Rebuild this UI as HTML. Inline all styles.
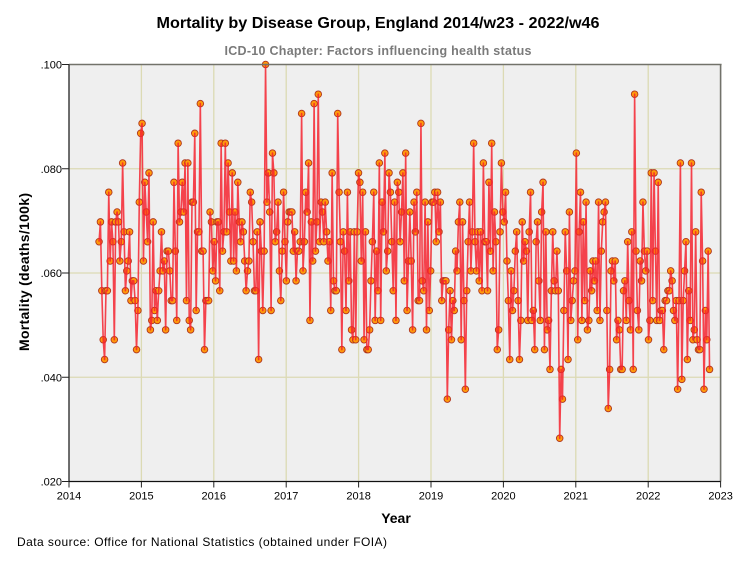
<!DOCTYPE html>
<html>
<head>
<meta charset="utf-8">
<title>Mortality by Disease Group</title>
<style>
html,body{margin:0;padding:0;background:#fff;width:754px;height:564px;overflow:hidden}
svg{display:block}
text{font-family:"Liberation Sans",sans-serif}
</style>
</head>
<body>
<svg id="chart" width="754" height="564" viewBox="0 0 754 564" xmlns="http://www.w3.org/2000/svg">
  <rect x="0" y="0" width="754" height="564" fill="#ffffff"/>
  <text x="378" y="28" text-anchor="middle" font-size="16" font-weight="bold" fill="#000" textLength="443" lengthAdjust="spacingAndGlyphs">Mortality by Disease Group, England 2014/w23 - 2022/w46</text>
  <text x="378" y="55" text-anchor="middle" font-size="12.5" font-weight="bold" fill="#7a7a7a" textLength="307" lengthAdjust="spacing">ICD-10 Chapter: Factors influencing health status</text>
  <rect x="69" y="64.5" width="652" height="417" fill="#efefef"/>
  <g id="grid"></g>
  <g id="markers"></g>
  <polyline id="line" fill="none" stroke="#f5232f" stroke-opacity="0.85" stroke-width="1.6" stroke-linejoin="round"/>
  <g id="axes"></g>
  <text x="396" y="523" text-anchor="middle" font-size="14" font-weight="bold" fill="#000">Year</text>
  <text transform="translate(29,272) rotate(-90)" text-anchor="middle" font-size="14" font-weight="bold" fill="#000" textLength="158" lengthAdjust="spacing">Mortality (deaths/100k)</text>
  <text x="17" y="546" font-size="12" fill="#000" textLength="370" lengthAdjust="spacing">Data source: Office for National Statistics (obtained under FOIA)</text>
</svg>
<script>
const xTicks = [2014, 2015, 2016, 2017, 2018, 2019, 2020, 2021, 2022, 2023];
const yTicks = [0.02, 0.04, 0.06, 0.08, 0.10];
const yTickLabels = [".020", ".040", ".060", ".080", ".100"];
const firstWeek = 2014.415;
const weeksPerYear = 52.18;
const mortality = [
.0660,.0698,.0566,.0472,.0434,.0566,.0566,.0755,.0623,.0698,.0660,.0472,.0698,.0717,.0698,.0623,.0660,.0811,.0679,.0566,
.0604,.0623,.0679,.0547,.0585,.0585,.0547,.0453,.0528,.0736,.0868,.0887,.0623,.0774,.0717,.0660,.0792,.0491,.0509,.0698,
.0528,.0566,.0509,.0566,.0604,.0679,.0604,.0623,.0491,.0642,.0642,.0604,.0547,.0547,.0774,.0642,.0509,.0849,.0698,.0717,
.0774,.0717,.0811,.0547,.0811,.0509,.0491,.0736,.0736,.0868,.0528,.0679,.0679,.0925,.0642,.0642,.0453,.0547,.0547,.0547,
.0717,.0698,.0604,.0660,.0585,.0698,.0698,.0566,.0849,.0642,.0679,.0849,.0679,.0811,.0717,.0623,.0792,.0623,.0717,.0604,
.0774,.0698,.0660,.0698,.0679,.0623,.0566,.0604,.0623,.0755,.0736,.0660,.0566,.0566,.0679,.0434,.0698,.0642,.0528,.0642,
.1000,.0736,.0792,.0717,.0528,.0830,.0792,.0660,.0679,.0736,.0604,.0547,.0642,.0755,.0660,.0585,.0698,.0717,.0717,.0717,
.0642,.0679,.0585,.0642,.0642,.0660,.0906,.0604,.0660,.0755,.0717,.0811,.0509,.0698,.0623,.0925,.0642,.0698,.0943,.0660,
.0736,.0717,.0660,.0736,.0679,.0623,.0660,.0528,.0792,.0585,.0566,.0566,.0906,.0755,.0660,.0453,.0679,.0642,.0528,.0755,
.0585,.0679,.0491,.0472,.0679,.0472,.0679,.0792,.0774,.0623,.0755,.0472,.0679,.0453,.0453,.0491,.0585,.0660,.0755,.0509,
.0642,.0566,.0811,.0509,.0736,.0679,.0830,.0604,.0642,.0792,.0755,.0660,.0566,.0736,.0509,.0774,.0755,.0660,.0717,.0792,
.0585,.0830,.0528,.0623,.0717,.0623,.0491,.0736,.0679,.0755,.0547,.0547,.0887,.0585,.0566,.0736,.0491,.0698,.0528,.0604,
.0736,.0736,.0755,.0660,.0755,.0679,.0736,.0547,.0585,.0585,.0585,.0358,.0491,.0566,.0472,.0547,.0528,.0642,.0604,.0698,
.0736,.0472,.0698,.0547,.0377,.0566,.0660,.0736,.0604,.0679,.0849,.0660,.0604,.0679,.0585,.0679,.0566,.0811,.0660,.0660,
.0566,.0774,.0642,.0849,.0604,.0717,.0660,.0453,.0491,.0679,.0811,.0717,.0698,.0755,.0623,.0547,.0434,.0604,.0528,.0566,
.0642,.0679,.0547,.0434,.0509,.0698,.0623,.0660,.0642,.0509,.0679,.0755,.0509,.0528,.0453,.0660,.0698,.0585,.0509,.0717,
.0774,.0453,.0679,.0491,.0509,.0415,.0566,.0679,.0585,.0566,.0642,.0566,.0283,.0415,.0358,.0528,.0679,.0604,.0434,.0717,
.0509,.0547,.0585,.0604,.0830,.0472,.0679,.0755,.0509,.0698,.0547,.0736,.0491,.0509,.0604,.0566,.0623,.0585,.0623,.0528,
.0736,.0509,.0642,.0698,.0717,.0736,.0528,.0340,.0415,.0604,.0623,.0585,.0623,.0472,.0509,.0491,.0415,.0415,.0566,.0585,
.0509,.0660,.0547,.0491,.0679,.0415,.0943,.0642,.0528,.0491,.0623,.0585,.0736,.0642,.0604,.0642,.0472,.0509,.0792,.0547,
.0792,.0642,.0509,.0774,.0509,.0528,.0528,.0453,.0547,.0547,.0566,.0566,.0604,.0585,.0528,.0509,.0547,.0377,.0547,.0811,
.0396,.0547,.0604,.0660,.0434,.0566,.0509,.0811,.0472,.0491,.0679,.0472,.0453,.0453,.0755,.0623,.0377,.0528,.0472,.0642,.0415
];

const NS = "http://www.w3.org/2000/svg";
const plot = {left: 69, right: 720.6, top: 64.5, bottom: 481.5};
const xMin = 2014, xMax = 2023, yMin = 0.02, yMax = 0.10;
function xScale(t) { return plot.left + (t - xMin) / (xMax - xMin) * (plot.right - plot.left); }
function yScale(v) { return plot.bottom - (v - yMin) / (yMax - yMin) * (plot.bottom - plot.top); }
function make(tag, attrs, parent) {
  const el = document.createElementNS(NS, tag);
  for (const k in attrs) el.setAttribute(k, attrs[k]);
  parent.appendChild(el);
  return el;
}
const grid = document.getElementById("grid");
const axes = document.getElementById("axes");
const markers = document.getElementById("markers");

xTicks.forEach(function (t) {
  const x = xScale(t);
  if (t > xMin && t < xMax) {
    const g = make("line", {x1: x, x2: x, y1: plot.top, y2: plot.bottom, stroke: "#dcdab4", "stroke-width": 1.3}, grid);
    
    
  }
  const tick = make("line", {x1: x, x2: x, y1: plot.bottom, y2: plot.bottom + 6, stroke: "#222", "stroke-width": 1}, axes);
  
  
  const lab = make("text", {x: x, y: plot.bottom + 18, "text-anchor": "middle", "font-size": 11, fill: "#000"}, axes);
  
  
  lab.textContent = String(t);
});
yTicks.forEach(function (v, i) {
  const y = yScale(v);
  if (v > yMin && v < yMax) {
    const g = make("line", {x1: plot.left, x2: plot.right, y1: y, y2: y, stroke: "#dcdab4", "stroke-width": 1.3}, grid);
    
    
  }
  const tick = make("line", {x1: plot.left - 7, x2: plot.left, y1: y, y2: y, stroke: "#222", "stroke-width": 1}, axes);
  
  
  const lab = make("text", {x: plot.left - 7, y: y + 4, "text-anchor": "end", "font-size": 11, fill: "#000"}, axes);
  
  
  lab.textContent = yTickLabels[i];
});
const topFrame = make("line", {x1: plot.left, x2: plot.right + 1, y1: plot.top, y2: plot.top, stroke: "#72726a", "stroke-width": 1.6}, axes);


const rightFrame = make("line", {x1: plot.right, x2: plot.right, y1: plot.top, y2: plot.bottom, stroke: "#72726a", "stroke-width": 1.6}, axes);


const yAxis = make("line", {x1: plot.left, x2: plot.left, y1: plot.top, y2: plot.bottom, stroke: "#222", "stroke-width": 1.3}, axes);


const xAxis = make("line", {x1: plot.left, x2: plot.right, y1: plot.bottom, y2: plot.bottom, stroke: "#111", "stroke-width": 1.3}, axes);



const pts = [];
mortality.forEach(function (v, i) {
  const x = xScale(firstWeek + i / weeksPerYear);
  const y = yScale(v);
  pts.push(x.toFixed(2) + "," + y.toFixed(2));
  const c = make("circle", {cx: x.toFixed(2), cy: y.toFixed(2), r: 3.3, fill: "#ff9a0a", stroke: "#b0351f", "stroke-width": 0.9}, markers);
  
  
});
document.getElementById("line").setAttribute("points", pts.join(" "));
</script>
</body>
</html>
